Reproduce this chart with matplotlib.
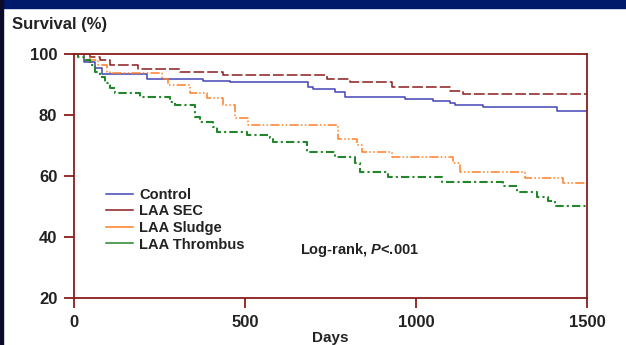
import numpy as np
import matplotlib.pyplot as plt
from matplotlib.lines import Line2D
from matplotlib.patches import Rectangle

plt.rcParams['font.family'] = ['Liberation Sans', 'DejaVu Sans']
plt.rcParams['font.weight'] = 'bold'
plt.rcParams['mathtext.fontset'] = 'custom'
plt.rcParams['mathtext.bfit'] = 'Liberation Sans:italic:bold'

# Kaplan-Meier step data (days, survival %)
control_t = [0, 30, 60, 81, 212, 378, 456, 685, 699, 763, 792, 968, 1051, 1099, 1114, 1197, 1411, 1500]
control_s = [100, 97.5, 95.5, 93.4, 91.7, 91.1, 90.7, 89.3, 88.4, 87.6, 86.0, 85.2, 84.7, 83.8, 83.3, 82.5, 81.4, 81.4]

sec_t = [0, 47, 76, 105, 187, 310, 436, 739, 807, 929, 1099, 1138, 1500]
sec_s = [100, 99.1, 98.0, 96.4, 95.0, 94.0, 93.1, 91.7, 90.7, 89.1, 88.0, 86.9, 86.9]

sludge_t = [0, 47, 71, 96, 105, 256, 276, 339, 388, 437, 471, 510, 773, 827, 841, 929, 1109, 1129, 1319, 1431, 1500]
sludge_s = [100, 98.0, 96.4, 94.2, 93.7, 91.7, 89.8, 87.1, 85.5, 83.3, 78.9, 76.6, 72.0, 70.2, 68.0, 66.1, 64.2, 61.4, 59.2, 57.6, 57.6]

thromb_t = [0, 13, 32, 47, 61, 76, 91, 105, 120, 193, 281, 295, 354, 368, 407, 417, 505, 573, 583, 680, 763, 822, 836, 919, 1075, 1255, 1294, 1353, 1387, 1406, 1500]
thromb_s = [100, 99.1, 98.0, 96.4, 94.2, 92.6, 90.4, 88.8, 87.3, 85.8, 84.4, 83.3, 79.5, 77.8, 76.2, 74.5, 73.4, 72.4, 71.2, 68.0, 66.1, 64.2, 61.4, 59.8, 58.1, 56.7, 54.9, 53.2, 51.9, 50.2, 50.2]

labels = ['Control', 'LAA SEC', 'LAA Sludge', 'LAA Thrombus']
colors = ['#4444b4', '#8c1c1c', '#ff7f27', '#24862a']

frame = '#8c1c1c'
txt = '#222222'

fig = plt.figure(figsize=(6.26, 3.45), dpi=100)
fig.patches.append(Rectangle((0, 1 - 8 / 345), 1, 8 / 345, transform=fig.transFigure,
                             color='#001a6b', zorder=0))
fig.patches.append(Rectangle((0, 0), 3 / 626, 1, transform=fig.transFigure,
                             color='#0a0a2a', zorder=0))

ax = fig.add_axes([74 / 626, 47 / 345, 513 / 626, 244 / 345])

ax.step(control_t, control_s, where='post', color=colors[0], lw=1.1)
ax.step(sec_t, sec_s, where='post', color=colors[1], lw=1.1, linestyle=(0, (7, 2)))
ax.step(sludge_t, sludge_s, where='post', color=colors[2], lw=1.1,
        linestyle=(0, (6, 1.5, 1, 1.5, 1, 1.5)))
ax.step(thromb_t, thromb_s, where='post', color=colors[3], lw=1.5,
        linestyle=(0, (4, 1.5, 1, 1.5)))

ax.set_xlim(0, 1500)
ax.set_ylim(20, 100)
ax.set_xticks([0, 500, 1000, 1500])
ax.set_yticks([20, 40, 60, 80, 100])
for s in ax.spines.values():
    s.set_color(frame)
    s.set_linewidth(1.3)
ax.tick_params(axis='both', colors=frame, labelcolor=txt, length=7, width=1.3,
               labelsize=12, pad=5)

ax.set_xlabel('Days', fontsize=11, color=txt, va='top', fontweight='bold')
ax.xaxis.set_label_coords(0.5, -0.135)
fig.text(12 / 626, 1 - 25 / 345, 'Survival (%)', fontsize=12, color=txt,
         ha='left', va='center')

ax.text(0.44, 0.198, r'Log-rank, $\mathbfit{P}$<.001', transform=ax.transAxes,
        fontsize=10.5, color=txt, ha='left', va='center')

handles = [Line2D([], [], color=c, lw=1.1) for c in colors]
ax.legend(handles, labels, loc='upper left', bbox_to_anchor=(0.062, 0.452),
          frameon=False, fontsize=10.5, handlelength=1.85, handletextpad=0.45,
          labelspacing=0.18, borderpad=0, borderaxespad=0,
          labelcolor=txt)

fig.savefig('out.png', dpi=100)
